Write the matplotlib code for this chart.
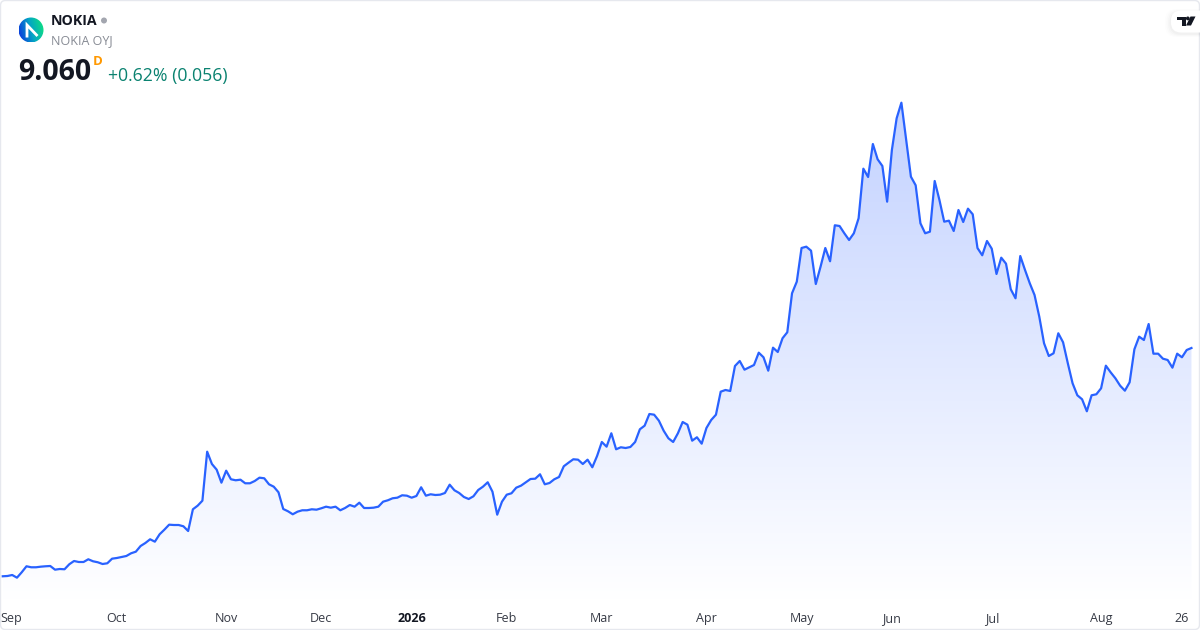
#!/usr/bin/env python3
import numpy as np
import matplotlib
matplotlib.use('Agg')
import matplotlib.pyplot as plt
from matplotlib.patches import Circle, Polygon, FancyBboxPatch
from matplotlib.colors import LinearSegmentedColormap

plt.rcParams['font.family'] = ['Open Sans', 'DejaVu Sans']

# daily closes
price = [3.353, 3.36, 3.385, 3.318, 3.453, 3.603, 3.578, 3.578, 3.593, 3.603,
         3.61, 3.518, 3.535, 3.528, 3.653, 3.735, 3.71, 3.71, 3.778, 3.728,
         3.703, 3.66, 3.678, 3.793, 3.81, 3.835, 3.86, 3.928, 3.968, 4.11,
         4.185, 4.278, 4.218, 4.403, 4.518, 4.643, 4.635, 4.635, 4.603, 4.485,
         5.028, 5.118, 5.243, 6.468, 6.16, 6.018, 5.693, 5.993, 5.778, 5.753,
         5.768, 5.678, 5.678, 5.735, 5.818, 5.803, 5.653, 5.593, 5.453, 5.035,
         4.978, 4.903, 4.968, 5.003, 5.003, 5.028, 5.018, 5.053, 5.093, 5.068,
         5.093, 5.003, 5.06, 5.135, 5.093, 5.193, 5.06, 5.06, 5.068, 5.093,
         5.218, 5.253, 5.303, 5.318, 5.378, 5.368, 5.318, 5.36, 5.578, 5.368,
         5.403, 5.385, 5.393, 5.435, 5.643, 5.503, 5.435, 5.335, 5.285, 5.353,
         5.51, 5.593, 5.703, 5.468, 4.893, 5.218, 5.393, 5.428, 5.568, 5.618,
         5.703, 5.785, 5.793, 5.903, 5.653, 5.685, 5.778, 5.835, 6.103, 6.193,
         6.278, 6.268, 6.16, 6.268, 6.078, 6.36, 6.71, 6.593, 6.928, 6.528,
         6.578, 6.56, 6.585, 6.71, 7.028, 7.118, 7.41, 7.393, 7.243, 6.993,
         6.803, 6.71, 6.928, 7.21, 7.143, 6.743, 6.828, 6.668, 7.06, 7.26,
         7.393, 7.968, 8.01, 7.985, 8.61, 8.735, 8.518, 8.578, 8.635, 8.943,
         8.828, 8.493, 9.068, 8.96, 9.303, 9.453, 10.428, 10.718, 11.56, 11.593,
         11.493, 10.66, 11.093, 11.56, 11.228, 12.128, 12.11, 11.928, 11.76, 11.928,
         12.303, 13.543, 13.335, 14.16, 13.778, 13.61, 12.718, 14.01, 14.803, 15.193,
         14.26, 13.343, 13.128, 12.178, 11.928, 11.968, 13.235, 12.76, 12.218, 12.243,
         11.985, 12.51, 12.21, 12.543, 12.403, 11.56, 11.378, 11.735, 11.543, 10.91,
         11.318, 11.168, 10.528, 10.303, 11.36, 11.01, 10.678, 10.385, 9.843, 9.178,
         8.86, 8.928, 9.428, 9.203, 8.678, 8.178, 7.878, 7.778, 7.478, 7.878,
         7.903, 8.053, 8.618, 8.453, 8.303, 8.118, 7.993, 8.203, 9.028, 9.343,
         9.26, 9.66, 8.918, 8.918, 8.793, 8.76, 8.568, 8.918, 8.828, 9.01, 9.06]
days = np.arange(len(price))

tick_days = [-0.4, 24, 47, 67, 86, 106, 126, 148, 168, 187, 208, 231, 248]
tick_labels = ['Sep', 'Oct', 'Nov', 'Dec', '2026', 'Feb', 'Mar', 'Apr', 'May',
               'Jun', 'Jul', 'Aug', '26']

fig = plt.figure(figsize=(12, 6.3), dpi=100)
pane_h = 600.
ax = fig.add_axes([0, 1 - pane_h / 630, 1, pane_h / 630])
ax.set_xlim(-2.7 / 4.755, (1200 - 2.7) / 4.755)
ax.set_ylim((710.4 - pane_h) / 40, 710.4 / 40)

# gradient under the line, clipped to the area polygon
ymin, ymax = ax.get_ylim()
top = max(price)
cmap = LinearSegmentedColormap.from_list('area', ['#c3d2ff', '#ffffff'])
grad = np.linspace(0, 1, 256).reshape(-1, 1)
im = ax.imshow(grad, extent=[days[0], days[-1], ymin, top], aspect='auto',
               cmap=cmap, zorder=1, interpolation='bilinear')
area = ax.fill_between(days, price, ymin, facecolor='none', edgecolor='none')
im.set_clip_path(area.get_paths()[0], transform=ax.transData)
ax.set_xlim(-2.7 / 4.755, (1200 - 2.7) / 4.755)
ax.set_ylim(ymin, ymax)

ax.plot(days, price, color='#2962ff', lw=1.6, zorder=3, solid_joinstyle='round')

for s in ax.spines.values():
    s.set_visible(False)
ax.set_yticks([])
ax.set_xticks(tick_days)
ax.set_xticklabels(tick_labels, fontsize=9, color='#363a45')
ax.tick_params(axis='x', length=0, pad=8.8)
lab = ax.get_xticklabels()
lab[0].set_ha('left')
lab[4].set_fontweight('bold')
lab[4].set_color('#131722')

# overlay in pixel coordinates for the header and badges
ov = fig.add_axes([0, 0, 1, 1], facecolor='none')
ov.set_xlim(0, 1200)
ov.set_ylim(630, 0)
ov.axis('off')

ov.add_patch(FancyBboxPatch((0.5, 0.5), 1199, 629, boxstyle='round,pad=0,rounding_size=5',
                            fc='none', ec='#e6e8ee', lw=1))

# logo
logo_cmap = LinearSegmentedColormap.from_list('logo', ['#0b2fe0', '#04a6c4', '#10e878'])
xx, yy = np.meshgrid(np.linspace(0, 1, 64), np.linspace(0, 1, 64))
logo = ov.imshow(xx * 0.8 + (1 - yy) * 0.2, extent=[18.5, 43.5, 42.5, 17.5], cmap=logo_cmap,
                 aspect='auto', zorder=2)
logo.set_clip_path(Circle((31, 30), 12.5, transform=ov.transData))
ov.set_xlim(0, 1200)
ov.set_ylim(630, 0)
ov.plot([27, 27, 37.5], [37.5, 25, 36], color='white', lw=2, zorder=3,
        solid_joinstyle='miter', solid_capstyle='butt')

ov.text(51, 21, 'NOKIA', fontsize=10.2, fontweight='bold', color='#131722', va='center')
ov.add_patch(Circle((104, 20.5), 3, fc='#a3a6af', ec='none'))
ov.text(51, 40.5, 'NOKIA OYJ', fontsize=9, color='#878b94', va='center')
ov.text(18.5, 73, '9.060', fontsize=20.5, fontweight='bold', color='#131722', va='center')
ov.text(93, 61.5, 'D', fontsize=9.5, fontweight='bold', color='#ff9800', va='center')
ov.text(108, 75.5, '+0.62% (0.056)', fontsize=12.7, color='#0a8270', va='center')

# TV badge, soft shadow below the pill
for off, a in zip([6, 4.5, 3, 1.5], [0.008, 0.012, 0.016, 0.02]):
    ov.add_patch(FancyBboxPatch((1171 - off, 12 - off / 2), 40 + off, 22 + off,
                                boxstyle='round,pad=0,rounding_size=11', fc='black', ec='none',
                                alpha=a, zorder=4))
ov.add_patch(FancyBboxPatch((1171, 10.5), 40, 22, boxstyle='round,pad=0,rounding_size=10',
                            fc='white', ec='none', zorder=5))
ov.add_patch(Polygon([(1177, 16.5), (1185.5, 16.5), (1185.5, 25.5), (1181.5, 25.5), (1181.5, 20.2), (1177, 20.2)],
                     fc='#131722', ec='none', zorder=6))
ov.add_patch(Circle((1187.8, 18.4), 1.9, fc='#131722', ec='none', zorder=6))
ov.add_patch(Polygon([(1190.5, 16.5), (1195.5, 16.5), (1191, 25.5), (1186, 25.5)],
                     fc='#131722', ec='none', zorder=6))

fig.savefig('out.png', dpi=100)
